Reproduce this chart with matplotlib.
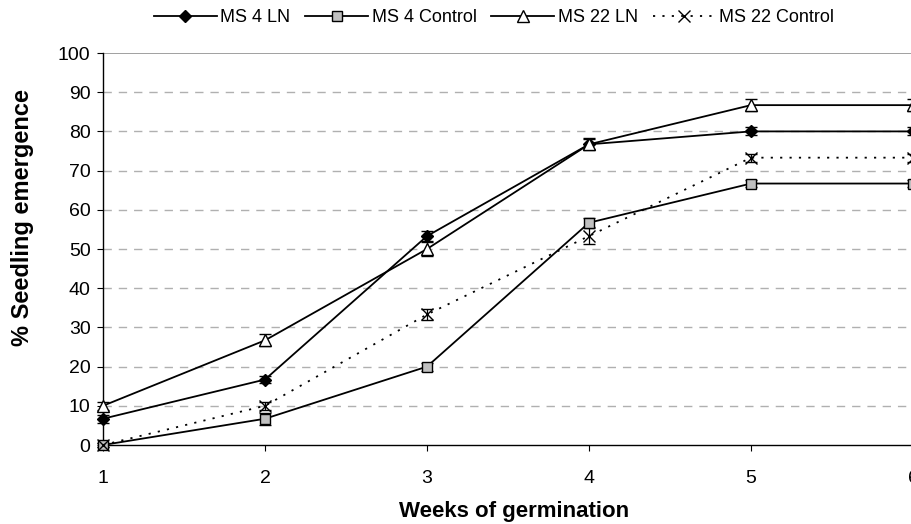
import numpy as np
import matplotlib
matplotlib.use("Agg")
import matplotlib.pyplot as plt
from matplotlib.lines import Line2D

plt.rcParams['font.family'] = ['Liberation Sans', 'DejaVu Sans']

# data
weeks = [1, 2, 3, 4, 5, 6]
ms4_ln = [6.7, 16.7, 53.3, 76.7, 80.0, 80.0]
ms4_ln_err = [1.0, 1.0, 1.3, 1.3, 1.0, 1.0]
ms4_ctrl = [0.0, 6.7, 20.0, 56.7, 66.7, 66.7]
ms4_ctrl_err = [0.5, 1.5, 1.0, 1.2, 1.0, 1.0]
ms22_ln = [10.0, 26.7, 50.0, 76.7, 86.7, 86.7]
ms22_ln_err = [1.0, 1.5, 1.8, 1.5, 1.5, 1.5]
ms22_ctrl = [0.0, 10.0, 33.3, 53.3, 73.3, 73.3]
ms22_ctrl_err = [0.5, 1.0, 1.5, 2.0, 1.0, 1.0]
labels = ['MS 4 LN', 'MS 4 Control', 'MS 22 LN', 'MS 22 Control']

fig = plt.figure(figsize=(9.12, 5.24), dpi=100)
ax = fig.add_axes([103/912, 1-445/524, 810/912, 392/524])

# marker styles per series
styles = [
    dict(marker='D', ms=6, mfc='black', mec='black', ls='-'),
    dict(marker='s', ms=7, mfc='#c0c0c0', mec='black', ls='-'),
    dict(marker='^', ms=8, mfc='white', mec='black', ls='-'),
    dict(marker='x', ms=8, mfc='black', mec='black', ls=(0, (1.2, 4))),
]
series = [(ms4_ln, ms4_ln_err), (ms4_ctrl, ms4_ctrl_err),
          (ms22_ln, ms22_ln_err), (ms22_ctrl, ms22_ctrl_err)]

handles = []
for (vals, err), st, lab in zip(series, styles, labels):
    ax.errorbar(weeks, vals, yerr=err, color='black', lw=1.3, capsize=4,
                elinewidth=0.9, capthick=0.9, mew=1.0, clip_on=False, zorder=3, **st)
    handles.append(Line2D([], [], color='black', lw=1.3, mew=1.0, **st))

ax.set_xlim(1, 6)
ax.set_ylim(0, 100)
ax.set_xticks(weeks)
ax.set_yticks(np.arange(0, 101, 10))
ax.tick_params(labelsize=14, length=4, width=0.8, colors='black', pad=5)
ax.tick_params(axis='x', pad=14)

for y in range(10, 100, 10):
    ax.axhline(y, color='#b0b0b0', lw=1.0, ls=(0, (6, 5)), zorder=0)
ax.axhline(100, color='#909090', lw=1.2, zorder=0)

for s in ['top', 'right']:
    ax.spines[s].set_visible(False)
ax.spines['left'].set_linewidth(1.0)
ax.spines['bottom'].set_linewidth(1.0)

ax.set_xlabel('Weeks of germination', fontsize=16, fontweight='bold')
ax.xaxis.set_label_coords((514-103)/810, -(511-445)/392)
ax.xaxis.label.set_va('center')
ax.set_ylabel('% Seedling emergence', fontsize=17, fontweight='bold')
ax.yaxis.set_label_coords(-(103-23)/810, (445-218)/392)
ax.yaxis.label.set_va('center')

fig.legend(handles, labels, loc='center', bbox_to_anchor=(494/912, 1-18/524), ncol=4,
           frameon=False, fontsize=13, handlelength=3.5, handletextpad=0.2,
           columnspacing=0.8)

fig.savefig('out.png', dpi=100)
